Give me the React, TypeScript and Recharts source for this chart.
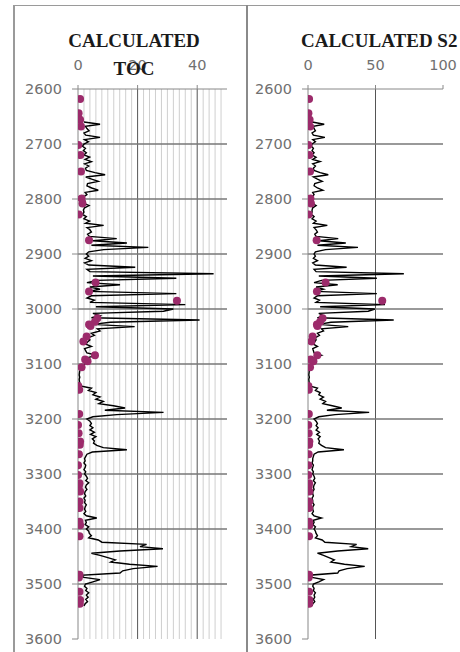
import React from 'react';
import { ComposedChart, Scatter, XAxis, YAxis, ReferenceLine } from 'recharts';

// Depth samples of the calculated curves (ft)
const DEPTHS = [
  2660, 2664, 2668, 2672, 2676, 2680, 2684, 2688, 2692, 2696,
  2700, 2704, 2708, 2712, 2716, 2720, 2724, 2728, 2732, 2736,
  2740, 2744, 2748, 2752, 2756, 2760, 2764, 2768, 2772, 2776,
  2780, 2784, 2788, 2792, 2796, 2800, 2804, 2808, 2812, 2816,
  2820, 2824, 2828, 2832, 2836, 2840, 2844, 2848, 2852, 2856,
  2860, 2864, 2868, 2872, 2876, 2880, 2884, 2888, 2892, 2896,
  2900, 2904, 2908, 2912, 2916, 2920, 2924, 2928, 2932, 2936,
  2940, 2944, 2948, 2952, 2956, 2960, 2964, 2968, 2972, 2976,
  2980, 2984, 2988, 2992, 2996, 3000, 3004, 3008, 3012, 3016,
  3020, 3024, 3028, 3032, 3036, 3040, 3044, 3048, 3052, 3056,
  3060, 3064, 3068, 3072, 3076, 3080, 3084, 3088, 3092, 3096,
  3100, 3104, 3108, 3112, 3116, 3120, 3124, 3128, 3132, 3136,
  3140, 3144, 3148, 3152, 3156, 3160, 3164, 3168, 3172, 3176,
  3180, 3184, 3188, 3192, 3196, 3200, 3204, 3208, 3212, 3216,
  3220, 3224, 3228, 3232, 3236, 3240, 3244, 3248, 3252, 3256,
  3260, 3264, 3268, 3272, 3276, 3280, 3284, 3288, 3292, 3296,
  3300, 3304, 3308, 3312, 3316, 3320, 3324, 3328, 3332, 3336,
  3340, 3344, 3348, 3352, 3356, 3360, 3364, 3368, 3372, 3376,
  3380, 3384, 3388, 3392, 3396, 3400, 3404, 3408, 3412, 3416,
  3420, 3424, 3428, 3432, 3436, 3440, 3444, 3448, 3452, 3456,
  3460, 3464, 3468, 3472, 3476, 3480, 3484, 3488, 3492, 3496,
  3500, 3504, 3508, 3512, 3516, 3520, 3524, 3528, 3532, 3536,
  3540,
];

// Calculated TOC (wt%)
const TOC_CALC = [
  2.0, 7.4, 2.5, 3.0, 3.7, 2.0, 2.6, 7.4, 2.2, 3.5,
  2.0, 1.5, 2.5, 1.8, 2.8, 2.0, 3.9, 2.4, 4.5, 2.2,
  3.6, 2.5, 2.8, 5.7, 9.1, 2.6, 4.6, 6.8, 3.2, 3.0,
  4.6, 6.8, 2.4, 3.0, 2.0, 1.6, 2.4, 2.0, 3.7, 2.2,
  1.8, 2.0, 1.5, 2.8, 2.0, 3.9, 2.5, 8.6, 3.0, 4.0,
  4.5, 3.2, 3.8, 13.0, 5.0, 16.4, 4.5, 23.6, 8.6, 3.6,
  2.8, 3.6, 2.4, 4.5, 2.2, 3.6, 19.2, 3.0, 4.0, 45.5,
  5.0, 33.0, 6.3, 3.0, 14.1, 4.0, 7.4, 3.5, 33.0, 4.5,
  3.0, 5.5, 4.0, 36.0, 6.0, 32.0, 28.7, 5.0, 7.4, 4.5,
  40.8, 10.8, 5.0, 19.0, 6.5, 7.4, 4.5, 5.5, 3.5, 4.0,
  3.2, 2.6, 4.5, 2.2, 2.6, 3.0, 6.3, 3.6, 4.0, 3.0,
  2.2, 1.2, 1.0, 0.6, 0.5, 0.4, 0.6, 0.4, 0.5, 0.7,
  0.8, 4.5, 3.5, 6.0, 5.0, 7.4, 6.0, 8.5, 7.0, 11.9,
  15.8, 9.0, 28.7, 13.0, 5.0, 3.0, 4.0, 4.5, 4.0, 5.0,
  4.0, 5.5, 4.2, 6.0, 4.8, 5.5, 5.2, 6.3, 8.5, 16.4,
  4.8, 3.0, 2.6, 2.2, 2.4, 2.0, 2.6, 2.4, 2.0, 2.6,
  2.2, 2.8, 3.2, 2.6, 3.6, 2.8, 2.5, 3.0, 2.4, 2.2,
  2.6, 2.0, 2.4, 2.2, 2.8, 2.4, 2.2, 2.6, 2.0, 2.8,
  6.3, 2.5, 2.8, 2.4, 3.6, 2.8, 3.6, 3.8, 4.5, 3.6,
  6.8, 8.0, 23.0, 20.8, 28.5, 14.1, 4.5, 7.4, 10.0, 12.5,
  11.0, 17.3, 26.7, 18.5, 15.0, 14.1, 0.8, 2.0, 7.4, 5.0,
  2.5, 2.2, 3.0, 2.6, 3.6, 2.8, 3.4, 2.6, 3.2, 2.4,
  2.0,
];

// Calculated S2 (mg HC/g rock)
const S2_CALC = [
  3.0, 12.0, 4.0, 4.5, 5.5, 3.0, 4.0, 12.5, 3.5, 5.5,
  3.0, 2.5, 4.0, 3.0, 4.5, 3.0, 6.0, 3.5, 9.0, 3.5,
  5.5, 4.0, 4.5, 9.0, 15.0, 4.0, 7.0, 10.5, 5.0, 4.5,
  7.0, 11.0, 3.5, 4.5, 3.0, 2.5, 3.5, 3.0, 6.0, 3.5,
  3.0, 3.0, 2.5, 4.5, 3.0, 6.0, 4.0, 14.3, 4.5, 6.0,
  7.0, 5.0, 6.0, 22.4, 8.0, 28.0, 7.0, 37.0, 13.0, 5.5,
  4.5, 5.5, 4.0, 7.0, 3.5, 5.5, 28.6, 4.5, 6.0, 71.0,
  8.0, 51.0, 10.0, 4.5, 22.0, 6.0, 11.5, 5.5, 51.0, 7.0,
  4.5, 8.5, 6.0, 57.0, 9.0, 49.5, 44.6, 8.0, 11.5, 7.0,
  63.5, 17.0, 8.0, 29.8, 10.0, 11.5, 7.0, 8.5, 5.5, 6.0,
  5.0, 4.0, 7.0, 3.5, 4.0, 4.5, 10.0, 5.5, 6.0, 4.5,
  3.5, 2.0, 1.5, 1.0, 0.8, 0.6, 1.0, 0.6, 0.8, 1.1,
  1.2, 7.0, 5.5, 9.0, 8.0, 11.5, 9.0, 13.0, 11.0, 18.0,
  25.0, 14.0, 45.3, 20.0, 8.0, 4.5, 6.0, 7.0, 6.0, 7.5,
  6.0, 8.5, 6.5, 9.0, 7.5, 8.5, 8.0, 10.0, 13.0, 26.6,
  7.5, 4.5, 4.0, 3.5, 3.5, 3.0, 4.0, 3.5, 3.0, 4.0,
  3.5, 4.5, 5.0, 4.0, 5.5, 4.5, 4.0, 4.5, 3.5, 3.5,
  4.0, 3.0, 3.5, 3.5, 4.5, 3.5, 3.5, 4.0, 3.0, 4.5,
  10.0, 4.0, 4.5, 3.5, 5.5, 4.5, 5.5, 6.0, 7.0, 5.5,
  10.5, 12.5, 36.0, 32.0, 44.6, 22.0, 7.0, 11.5, 15.5, 19.5,
  17.0, 27.0, 42.0, 29.0, 23.0, 22.0, 1.2, 3.0, 11.5, 8.0,
  4.0, 3.5, 4.5, 4.0, 5.5, 4.5, 5.0, 4.0, 5.0, 3.5,
  3.0,
];

// Measured sample depths and lab values
const SAMPLE_DEPTHS = [
  2618, 2644, 2656, 2668, 2702, 2720, 2750, 2799, 2808, 2828,
  2875, 2952, 2968, 2985, 3017, 3023, 3028, 3031, 3050, 3059,
  3084, 3092, 3095, 3106, 3140, 3147, 3191, 3211, 3226, 3241,
  3247, 3264, 3284, 3302, 3317, 3322, 3332, 3350, 3362, 3387,
  3393, 3413, 3483, 3488, 3514, 3529, 3536,
];
const TOC_MEAS = [
  0.7, 0.2, 0.7, 1.0, 0.1, 0.8, 1.0, 1.2, 1.5, 0.3,
  3.7, 5.9, 3.7, 33.2, 6.5, 5.7, 3.7, 4.2, 2.9, 1.8,
  5.7, 2.4, 3.2, 1.2, 0.1, 0.4, 0.4, 0.0, 0.2, 0.7,
  0.6, 0.3, 0.0, 0.0, 0.5, 0.3, 0.7, 0.5, 0.5, 0.5,
  0.7, 0.5, 0.5, 0.3, 0.5, 0.7, 0.6,
];
const S2_MEAS = [
  0.8, 0.3, 1.2, 1.5, 0.3, 1.0, 1.5, 1.8, 2.2, 0.5,
  6.4, 13.0, 6.6, 55.0, 10.8, 9.0, 6.6, 7.0, 3.4, 2.5,
  6.9, 2.0, 4.0, 1.5, 0.3, 0.6, 0.6, 0.2, 0.5, 1.0,
  0.8, 0.5, 0.2, 0.2, 0.8, 0.5, 1.0, 0.8, 0.8, 0.8,
  1.0, 0.8, 0.8, 0.5, 0.8, 1.0, 0.9,
];

const DEPTH_TICKS = [2600, 2700, 2800, 2900, 3000, 3100, 3200, 3300, 3400, 3500, 3600];
const DEPTH_GRID = [2700, 2800, 2900, 3000, 3100, 3200, 3300, 3400, 3500];
const TOC_TICKS = [0, 20, 40];
const TOC_MAJOR = [20, 40];
const TOC_MINOR = [2, 4, 6, 8, 10, 12, 14, 16, 18, 22, 24, 26, 28, 30, 32, 34, 36, 38, 42, 44, 46, 48];
const S2_TICKS = [0, 50, 100];
const S2_MAJOR = [50];

const tocLine = DEPTHS.map((d, i) => ({ depth: d, v: TOC_CALC[i] }));
const s2Line = DEPTHS.map((d, i) => ({ depth: d, v: S2_CALC[i] }));
const tocDots = SAMPLE_DEPTHS.map((d, i) => ({ depth: d, v: TOC_MEAS[i] }));
const s2Dots = SAMPLE_DEPTHS.map((d, i) => ({ depth: d, v: S2_MEAS[i] }));

const tickStyle = { fill: '#707070', fontSize: 14.5, fontFamily: 'DejaVu Sans' };
const DOT = '#9c2b6b';

const NoShape = () => <g />;
const DotShape = (p: any) => <circle cx={p.cx} cy={p.cy} r={4} fill={DOT} />;

type PanelProps = {
  left: number;
  width: number;
  yWidth: number;
  right: number;
  xMax: number;
  xTicks: number[];
  minor: number[];
  major: number[];
  line: { depth: number; v: number }[];
  dots: { depth: number; v: number }[];
};

function Panel(props: PanelProps) {
  const { left, width, yWidth, right, xMax, xTicks, minor, major, line, dots } = props;
  return (
    <div style={{ position: 'absolute', left, top: 0, width, height: 652 }}>
      <ComposedChart width={width} height={652} margin={{ top: 59, right, bottom: 13, left: 0 }}>
        {minor.map((m) => (
          <ReferenceLine key={'mi' + m} x={m} stroke="#cfcfcf" strokeWidth={1} />
        ))}
        {major.map((m) => (
          <ReferenceLine key={'ma' + m} x={m} stroke="#555" strokeWidth={1} />
        ))}
        {DEPTH_GRID.map((d) => (
          <ReferenceLine key={'h' + d} y={d} stroke="#777" strokeWidth={1.3} />
        ))}
        <XAxis
          type="number"
          dataKey="v"
          orientation="top"
          domain={[0, xMax]}
          ticks={xTicks}
          allowDataOverflow
          height={30}
          tickSize={4}
          tickMargin={15}
          axisLine={{ stroke: '#888' }}
          tickLine={{ stroke: '#888' }}
          tick={tickStyle}
        />
        <YAxis
          type="number"
          dataKey="depth"
          reversed
          domain={[2600, 3600]}
          ticks={DEPTH_TICKS}
          allowDataOverflow
          width={yWidth}
          tickSize={6}
          tickMargin={10}
          axisLine={{ stroke: '#888' }}
          tickLine={{ stroke: '#888' }}
          tick={tickStyle}
        />
        <Scatter
          data={line}
          line={{ stroke: '#000', strokeWidth: 1.4 }}
          lineType="joint"
          shape={NoShape}
          isAnimationActive={false}
        />
        <Scatter data={dots} shape={DotShape} isAnimationActive={false} />
      </ComposedChart>
    </div>
  );
}

const titleStyle: React.CSSProperties = {
  position: 'absolute',
  fontFamily: '"Liberation Serif", serif',
  fontWeight: 'bold',
  fontSize: 19,
  color: '#1a1a1a',
  whiteSpace: 'nowrap',
  lineHeight: '20px',
};

export default function App() {
  return (
    <div style={{ position: 'absolute', left: 0, top: 0, width: 460, height: 652, background: '#fff', overflow: 'hidden' }}>
      <Panel
        left={0}
        width={246}
        yWidth={78}
        right={19}
        xMax={50}
        xTicks={TOC_TICKS}
        minor={TOC_MINOR}
        major={TOC_MAJOR}
        line={tocLine}
        dots={tocDots}
      />
      <Panel
        left={247}
        width={213}
        yWidth={61}
        right={17}
        xMax={100}
        xTicks={S2_TICKS}
        minor={[]}
        major={S2_MAJOR}
        line={s2Line}
        dots={s2Dots}
      />
      {/* frame lines */}
      <div style={{ position: 'absolute', left: 14, top: 5, width: 446, height: 1, background: '#9a9a9a' }} />
      <div style={{ position: 'absolute', left: 13, top: 5, width: 2, height: 647, background: '#9a9a9a' }} />
      <div style={{ position: 'absolute', left: 246, top: 5, width: 2, height: 647, background: '#8a8a8a' }} />
      {/* titles */}
      <div style={{ ...titleStyle, left: 34, width: 200, textAlign: 'center', top: 31 }}>CALCULATED</div>
      <div style={{ ...titleStyle, left: 34, width: 200, textAlign: 'center', top: 59 }}>TOC</div>
      <div style={{ ...titleStyle, left: 301, top: 31 }}>CALCULATED S2</div>
    </div>
  );
}
